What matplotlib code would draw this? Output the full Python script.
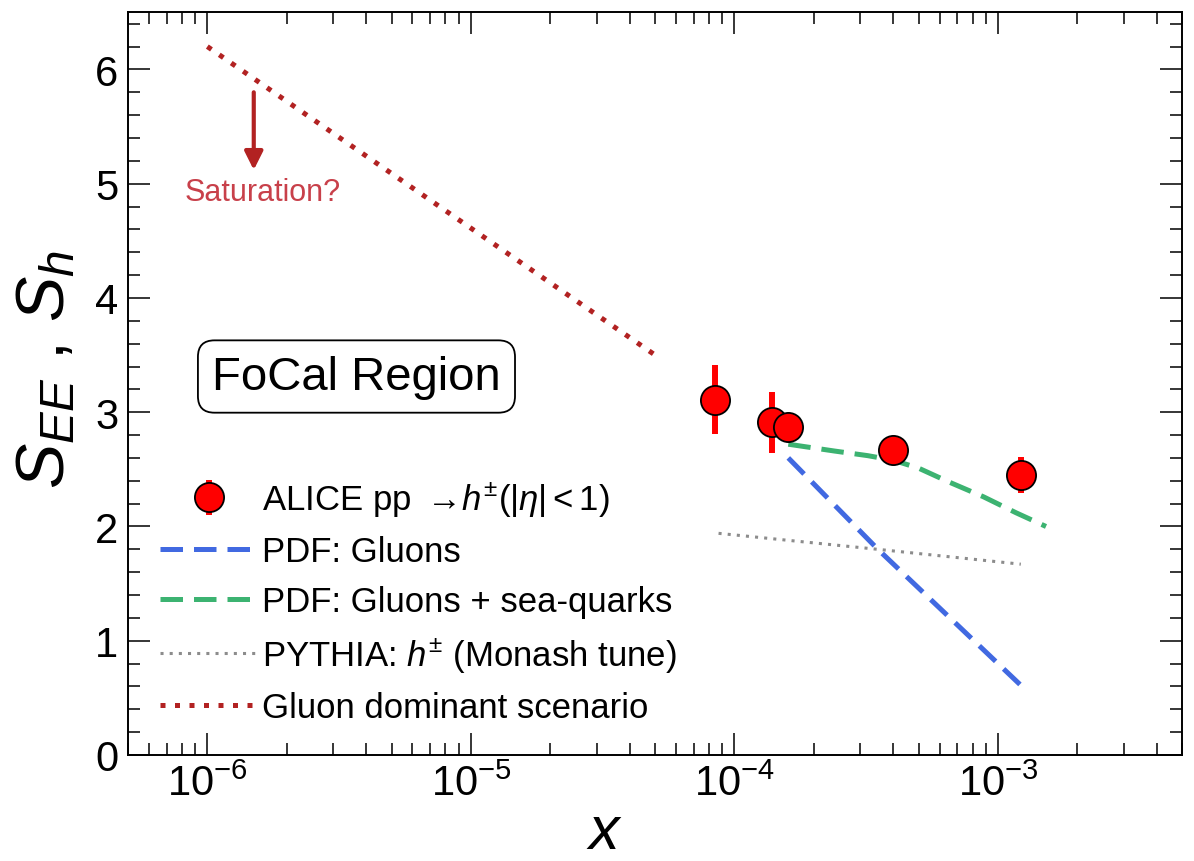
import matplotlib
matplotlib.use("Agg")
import matplotlib.pyplot as plt
from matplotlib.ticker import MultipleLocator, LogLocator, NullFormatter

plt.rcParams['font.family'] = ['Liberation Sans', 'DejaVu Sans']
plt.rcParams['mathtext.fontset'] = 'custom'
plt.rcParams['mathtext.rm'] = 'Liberation Sans'
plt.rcParams['mathtext.it'] = 'Liberation Sans:italic'
plt.rcParams['mathtext.bf'] = 'Liberation Sans:bold'

# ALICE pp -> h+- (|eta| < 1) measurements
alice_x = [8.4e-5, 1.39e-4, 1.6e-4, 4.0e-4, 1.22e-3]
alice_s = [3.11, 2.91, 2.87, 2.67, 2.45]
alice_err = [0.30, 0.27, 0.05, 0.08, 0.16]

# PDF expectation: gluons only
glu_x = [1.6e-4, 3.5e-4, 1.22e-3]
glu_s = [2.60, 1.80, 0.61]

# PDF expectation: gluons + sea quarks
sea_x = [1.6e-4, 2.4e-4, 3.2e-4, 4.0e-4, 5.0e-4, 6.5e-4, 8.8e-4, 1.17e-3, 1.52e-3]
sea_s = [2.72, 2.66, 2.62, 2.58, 2.51, 2.39, 2.26, 2.12, 2.00]

# PYTHIA h+- (Monash tune)
pyt_x = [8.7e-5, 3.5e-4, 1.22e-3]
pyt_s = [1.94, 1.80, 1.67]

# Gluon dominant scenario extrapolated to small x
gd_x = [1.0e-6, 5.0e-5]
gd_s = [6.20, 3.50]

legend_labels = [
    r'ALICE pp $\rightarrow\!h^{\pm}(|\eta| < 1)$',
    'PDF: Gluons',
    'PDF: Gluons + sea-quarks',
    r'PYTHIA: $h^{\pm}$ (Monash tune)',
    'Gluon dominant scenario',
]

W, H = 1194, 862
fig = plt.figure(figsize=(W / 100, H / 100), dpi=100)
ax = fig.add_axes([128 / W, 1 - 756 / H, (1182.3 - 128) / W, (756 - 13.3) / H])

ax.set_xscale('log')
ax.set_xlim(5e-7, 5e-3)
ax.set_ylim(0, 6.5)

h_gd, = ax.plot(gd_x, gd_s, color='#b22222', lw=3.6, linestyle=(0, (1, 1.9)))
h_pyt, = ax.plot(pyt_x, pyt_s, color='#8c8c8c', lw=2.2, linestyle=(0, (1, 2.0)))
h_glu, = ax.plot(glu_x, glu_s, color='#4169e1', lw=3.6, linestyle=(0, (4.5, 2.2)))
h_sea, = ax.plot(sea_x, sea_s, color='#3cb371', lw=3.6, linestyle=(0, (4.5, 2.2)))
h_alice = ax.errorbar(alice_x, alice_s, yerr=alice_err, fmt='o', color='red',
                      ms=21, mfc='red', mec='black', mew=1.3, elinewidth=4.3,
                      capsize=0, zorder=5)

ax.annotate('', xy=(1.5e-6, 5.12), xytext=(1.5e-6, 5.80),
            arrowprops=dict(arrowstyle='-|>,head_length=0.5,head_width=0.25',
                            color='#b22222', lw=3.0, mutation_scale=22,
                            shrinkA=0, shrinkB=0))
ax.text(1.62e-6, 4.93, 'Saturation?', color='#c8404a', fontsize=22,
        ha='center', va='center')

ax.text(0.2167, 0.5096, 'FoCal Region', transform=ax.transAxes, fontsize=34,
        ha='center', va='center',
        bbox=dict(boxstyle='round,pad=0.3,rounding_size=0.35', fc='white',
                  ec='black', lw=1.3))

ax.legend([h_alice, h_glu, h_sea, h_pyt, h_gd], legend_labels,
          loc='upper left', bbox_to_anchor=(0.030, 0.371), frameon=False,
          fontsize=25, handlelength=2.82, handletextpad=0.12, labelspacing=0.485,
          borderaxespad=0, borderpad=0)

ax.yaxis.set_major_locator(MultipleLocator(1))
ax.yaxis.set_minor_locator(MultipleLocator(0.2))
ax.xaxis.set_major_locator(LogLocator(base=10, numticks=20))
ax.xaxis.set_minor_locator(LogLocator(base=10, subs=range(2, 10), numticks=100))
ax.xaxis.set_minor_formatter(NullFormatter())

ax.tick_params(which='both', direction='in', top=True, right=True,
               width=1.1, labelsize=30)
ax.tick_params(which='major', length=15.8)
ax.tick_params(which='minor', length=8.6)
ax.tick_params(axis='y', pad=7)
ax.tick_params(axis='x', pad=6)
for sp in ax.spines.values():
    sp.set_linewidth(1.4)

fig.text(604 / W, 1 - 849 / H, 'x', fontsize=44, style='italic',
         ha='center', va='baseline')
fig.text(46 / W, 1 - 370 / H, r'$S_{EE}$ , $S_h$', fontsize=49, rotation=90,
         ha='center', va='center')

fig.savefig('out.png', dpi=100)
